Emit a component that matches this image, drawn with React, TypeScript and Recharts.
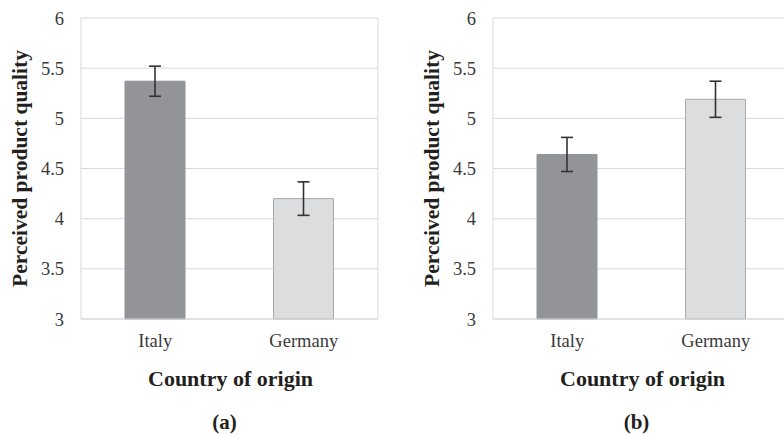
import React from 'react';
import { BarChart, Bar, XAxis, YAxis, CartesianGrid, ErrorBar, Cell, Label } from 'recharts';

const categories = ['Italy', 'Germany'];
const panelAValues = [5.37, 4.2];
const panelAErrors = [0.15, 0.167];
const panelBValues = [4.64, 5.19];
const panelBErrors = [0.17, 0.18];
const yTicks = [3, 3.5, 4, 4.5, 5, 5.5, 6];
const panelLabels = ['(a)', '(b)'];
const yTitle = 'Perceived product quality';
const xTitle = 'Country of origin';

const barFills = ['#929497', '#dcdddf'];
const barStrokes = ['#929497', '#a7a9ac'];
const FONT = '"Liberation Serif", "Times New Roman", serif';
const GRID = '#d9d9d9';

function Panel({ values, errors, label }: { values: number[]; errors: number[]; label: string }) {
  const data = categories.map((name, i) => ({ name, value: values[i], err: errors[i] }));
  return (
    <BarChart width={392} height={435} data={data} margin={{ top: 18, right: 14, bottom: 0, left: 0 }}>
      <CartesianGrid
        stroke={GRID}
        strokeWidth={1}
        vertical={true}
        verticalCoordinatesGenerator={({ offset }: any) => [offset.left, offset.left + offset.width]}
      />
      <XAxis
        dataKey="name"
        height={116}
        axisLine={{ stroke: GRID }}
        tickLine={false}
        tickSize={0}
        tickMargin={15}
        tick={{ fill: '#3a3a3a', fontSize: 18.5, fontFamily: FONT }}
      >
        <Label
          content={(props: any) => {
            const vb = props.viewBox;
            const cx = vb.x + vb.width / 2;
            return (
              <g>
                <text x={cx + 1} y={386} textAnchor="middle" fontFamily={FONT} fontSize={22} fontWeight="bold" fill="#231f20">
                  {xTitle}
                </text>
                <text x={cx - 5} y={429} textAnchor="middle" fontFamily={FONT} fontSize={21} fontWeight="bold" fill="#231f20">
                  {label}
                </text>
              </g>
            );
          }}
        />
      </XAxis>
      <YAxis
        width={81}
        domain={[3, 6]}
        ticks={yTicks}
        interval={0}
        axisLine={false}
        tickLine={false}
        tickSize={0}
        tickMargin={17}
        tick={{ fill: '#3a3a3a', fontSize: 18.5, fontFamily: FONT }}
      >
        <Label
          content={(props: any) => {
            const vb = props.viewBox;
            const cy = vb.y + vb.height / 2;
            const cx = 20;
            return (
              <text
                x={cx}
                y={cy}
                transform={`rotate(-90 ${cx} ${cy})`}
                textAnchor="middle"
                dominantBaseline="central"
                fontFamily={FONT}
                fontSize={21.5}
                fontWeight="bold"
                fill="#231f20"
              >
                {yTitle}
              </text>
            );
          }}
        />
      </YAxis>
      <Bar dataKey="value" barSize={60} isAnimationActive={false}>
        {data.map((d, i) => (
          <Cell key={d.name} fill={barFills[i]} stroke={barStrokes[i]} strokeWidth={1} />
        ))}
        <ErrorBar dataKey="err" width={6} stroke="#333333" strokeWidth={1.6} />
      </Bar>
    </BarChart>
  );
}

export default function App() {
  return (
    <div style={{ position: 'absolute', left: 0, top: 0, width: 784, height: 435, overflow: 'hidden', background: '#ffffff' }}>
      <div style={{ position: 'absolute', left: 0, top: 0 }}>
        <Panel values={panelAValues} errors={panelAErrors} label={panelLabels[0]} />
      </div>
      <div style={{ position: 'absolute', left: 412, top: 0 }}>
        <Panel values={panelBValues} errors={panelBErrors} label={panelLabels[1]} />
      </div>
    </div>
  );
}
